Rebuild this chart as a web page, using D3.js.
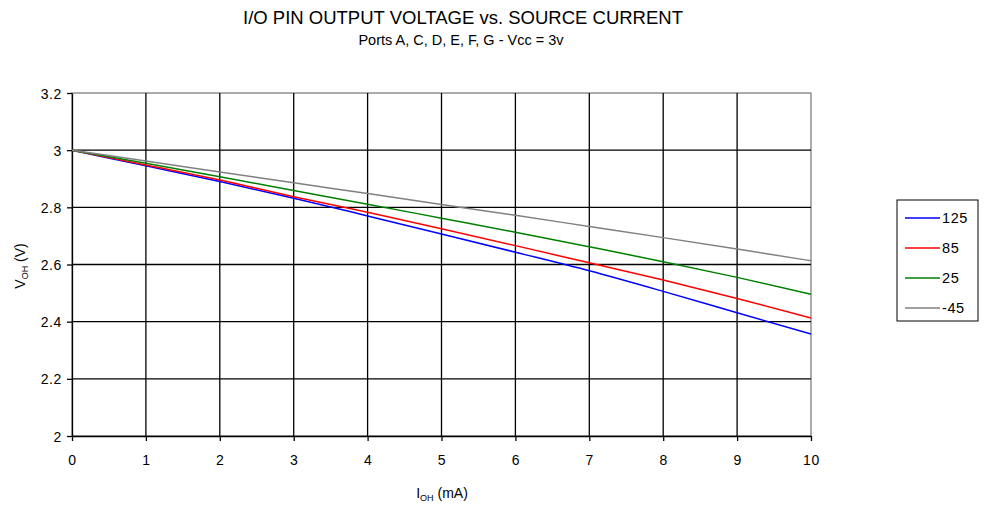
<!DOCTYPE html>
<html><head><meta charset="utf-8">
<script src="https://cdn.jsdelivr.net/npm/d3@7"></script>
<style>body{margin:0;background:#fff;} text{font-family:"Liberation Sans",Arial,sans-serif;}</style>
</head><body><svg id="c" width="990" height="506"></svg>
<script>
const currents = [0,1,2,3,4,5,6,7,8,9,10];
const s125 = [3.0,2.945,2.890,2.832,2.770,2.707,2.643,2.578,2.506,2.431,2.357];
const s85  = [3.0,2.948,2.896,2.837,2.783,2.725,2.666,2.606,2.546,2.481,2.413];
const s25  = [3.0,2.954,2.907,2.859,2.811,2.762,2.713,2.662,2.610,2.555,2.496];
const sm45 = [3.0,2.962,2.924,2.886,2.848,2.810,2.772,2.733,2.694,2.654,2.613];
const seriesNames = ["125","85","25","-45"];
const seriesColors = ["#0000ff","#ff0000","#008000","#808080"];
const xTicks = [0,1,2,3,4,5,6,7,8,9,10];
const yTicks = [2,2.2,2.4,2.6,2.8,3,3.2];
const allSeries = [s125,s85,s25,sm45];

const svg = d3.select("#c");
const L=72,R=811,T=93,B=436;
const x = d3.scaleLinear().domain([0,10]).range([L,R]);
const y = d3.scaleLinear().domain([2,3.2]).range([B,T]);

// plot border
svg.append("rect").attr("x",L).attr("y",T).attr("width",R-L).attr("height",B-T)
  .attr("fill","none").attr("stroke","#808080").attr("stroke-width",1.3);
// grid
svg.append("g").selectAll("line").data(xTicks.slice(1,-1)).join("line")
  .attr("x1",d=>x(d)).attr("x2",d=>x(d)).attr("y1",T).attr("y2",B)
  .attr("stroke","#000").attr("stroke-width",1.3);
svg.append("g").selectAll("line").data(yTicks.slice(1,-1)).join("line")
  .attr("x1",L).attr("x2",R).attr("y1",d=>y(d)).attr("y2",d=>y(d))
  .attr("stroke","#000").attr("stroke-width",1.3);

// axes
const xa = svg.append("g").attr("transform",`translate(0,${B})`)
  .call(d3.axisBottom(x).tickValues(xTicks).tickSize(5).tickSizeOuter(0).tickPadding(14).tickFormat(d3.format("d")));
const ya = svg.append("g").attr("transform",`translate(${L},0)`)
  .call(d3.axisLeft(y).tickValues(yTicks).tickSize(5).tickSizeOuter(0).tickPadding(5).tickFormat(d=>String(+d.toFixed(1))));
[xa,ya].forEach(a=>{a.selectAll("path,line").attr("stroke","#000").attr("stroke-width",1.3);
  a.selectAll("text").attr("font-size",14).attr("fill","#000").style("letter-spacing","0.6px").style("font-family","Liberation Sans, Arial, sans-serif");});
ya.selectAll("text").attr("dy","0.36em");

// lines
const line = d3.line().x((d,i)=>x(currents[i])).y(d=>y(d)).curve(d3.curveMonotoneX);
allSeries.forEach((s,k)=>{
  svg.append("path").datum(s).attr("d",line).attr("fill","none")
    .attr("stroke",seriesColors[k]).attr("stroke-width",1.5);
});

// titles
svg.append("text").attr("x",463).attr("y",24).attr("text-anchor","middle").attr("font-size",18.5).text("I/O PIN OUTPUT VOLTAGE vs. SOURCE CURRENT");
svg.append("text").attr("x",461).attr("y",45).attr("text-anchor","middle").attr("font-size",14.5).text("Ports A, C, D, E, F, G - Vcc = 3v");

// axis titles
const xt = svg.append("text").attr("x",442).attr("y",498).attr("text-anchor","middle").attr("font-size",14);
xt.append("tspan").text("I");
xt.append("tspan").attr("font-size",9).attr("dy",3).text("OH");
xt.append("tspan").attr("dy",-3).text(" (mA)");
const yt = svg.append("text").attr("transform","translate(25,266) rotate(-90)").attr("text-anchor","middle").attr("font-size",14);
yt.append("tspan").text("V");
yt.append("tspan").attr("font-size",9).attr("dy",3).text("OH");
yt.append("tspan").attr("dy",-3).text(" (V)");

// legend
const lg = svg.append("g");
lg.append("rect").attr("x",897).attr("y",200).attr("width",81).attr("height",121).attr("fill","#fff").attr("stroke","#000").attr("stroke-width",1);
seriesNames.forEach((n,k)=>{
  const yy = 218 + k*30;
  lg.append("line").attr("x1",905).attr("x2",940).attr("y1",yy).attr("y2",yy).attr("stroke",seriesColors[k]).attr("stroke-width",1.5);
  lg.append("text").attr("x",942).attr("y",yy+5).attr("font-size",14.5).style("letter-spacing","0.6px").text(n);
});
</script></body></html>
